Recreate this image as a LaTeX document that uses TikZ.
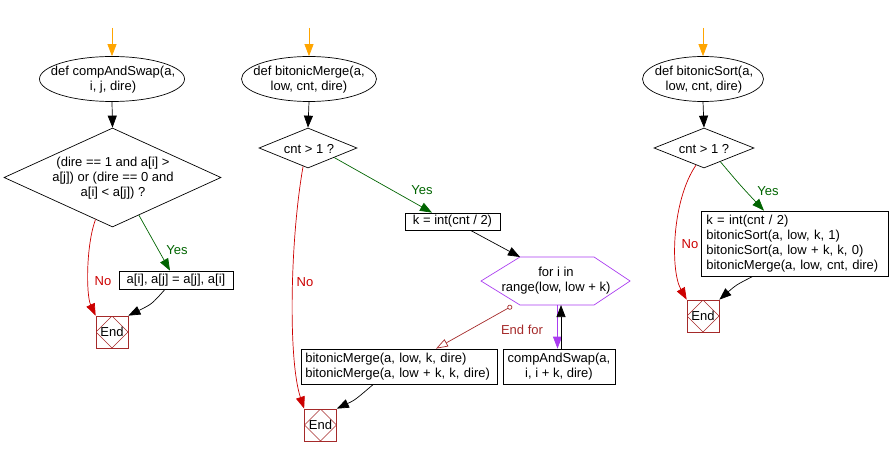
\documentclass[tikz,border=0pt]{standalone}
\usepackage{fontspec}
\setmainfont{Liberation Sans}
\usetikzlibrary{shapes.geometric,arrows.meta,calc}
\definecolor{startor}{RGB}{255,165,0}
\definecolor{yesgreen}{RGB}{0,100,0}
\definecolor{nored}{RGB}{204,0,0}
\definecolor{endred}{RGB}{165,42,42}
\definecolor{loopviolet}{RGB}{170,60,240}
\begin{document}
\begin{tikzpicture}[x=1pt,y=-1pt,
  every node/.style={font=\fontsize{13}{15}\selectfont, inner sep=0pt},
  tip/.style={-{Triangle[length=12pt,width=9pt]}},
  line/.style={tip, line width=0.7pt},
  startarrow/.style={line, draw=startor, fill=startor},
  yesline/.style={line, draw=yesgreen},
  noline/.style={line, draw=nored},
  funcell/.style={ellipse, draw, line width=0.7pt},
  decide/.style={diamond, draw, line width=0.7pt},
  procbox/.style={rectangle, draw, line width=0.7pt},
  endbox/.style={rectangle, draw=endred, line width=0.7pt, minimum size=32pt,
    path picture={\draw[endred, line width=0.6pt]
      (path picture bounding box.north) -- (path picture bounding box.east) --
      (path picture bounding box.south) -- (path picture bounding box.west) -- cycle;}},
  yeslabel/.style={text=yesgreen},
  nolabel/.style={text=nored},
]
\useasboundingbox (0,0) rectangle (890,457);

% ---------------- compAndSwap ----------------
\coordinate (s1) at (112,28);
\node[funcell, minimum width=145pt, minimum height=45pt] (e1) at (112,79) {};
\node[align=center] (e1t) at (113,80) {def compAndSwap(a,\\i, j, dire)};
\node[decide, minimum width=217pt, minimum height=99pt] (d1) at (112.5,177.5) {};
\node[align=center] (d1t) at (113,178) {(dire == 1 and a[i] >\\a[j]) or (dire == 0 and\\a[i] < a[j]) ?};
\node[procbox, minimum width=114pt, minimum height=18pt] (b1) at (176,280) {a[i], a[j] = a[j], a[i]};
\node[endbox] (end1) at (112,332) {End};

\draw[startarrow] (s1) -- (e1.north);
\draw[line] (e1.south) -- (d1.north);
\draw[yesline] (d1.-55) -- (b1.north -| 170,0);
\node[yeslabel] (y1) at (177,250) {Yes};
\draw[noline] (d1.-112) .. controls (86,245) and (86,295) .. (end1.north west);
\node[nolabel] (n1) at (103,281) {No};
\draw[line] ($(b1.south)+(-11,0)$) .. controls (152,304) .. (end1.north east);

% ---------------- bitonicMerge ----------------
\coordinate (s2) at (309,28);
\node[funcell, minimum width=135pt, minimum height=45pt] (e2) at (309,79) {};
\node[align=center] (e2t) at (309,80) {def bitonicMerge(a,\\low, cnt, dire)};
\node[decide, minimum width=98pt, minimum height=40pt] (d2) at (308,148) {};
\node (d2t) at (309,149) {cnt > 1 ?};
\node[procbox, minimum width=95pt, minimum height=17pt] (b2) at (452.5,221.5) {k = int(cnt / 2)};
% hexagon loop
\node[align=center] (loop) at (556,281) {for i in\\range(low, low + k)};
\coordinate (hW) at (481,281);
\coordinate (hNW) at (520,257);
\coordinate (hNE) at (594,257);
\coordinate (hE) at (630,281);
\coordinate (hSE) at (594,305);
\coordinate (hSW) at (520,305);
\draw[loopviolet, line width=0.7pt] (hW) -- (hNW) -- (hNE) -- (hE) -- (hSE) -- (hSW) -- cycle;
\node[procbox, text width=188pt, inner xsep=4pt, minimum height=35pt, align=left, anchor=west] (b3) at (301,366.5)
  {bitonicMerge(a, low, k, dire)\\bitonicMerge(a, low + k, k, dire)};
\node[procbox, minimum width=112pt, minimum height=35pt, align=center] (b4) at (559,366.5)
  {compAndSwap(a,\\i, i + k, dire)};
\node[endbox] (end2) at (320.5,425) {End};

\draw[startarrow] (s2) -- (e2.north);
\draw[line] (e2.south) -- (d2.north);
\draw[yesline] (d2.-20) -- (b2.north -| 432,0);
\node[yeslabel] (y2) at (422,190) {Yes};
\draw[noline] (d2.-105) .. controls (290,240) and (288,360) .. (end2.north west);
\node[nolabel] (n2) at (305,282) {No};
\draw[line] ($(b2.south)+(18,0)$) -- (hNW);
\coordinate (hB1) at (557.5,305);
\coordinate (hB2) at (561,305);
\draw[line, draw=loopviolet, fill=loopviolet] (hB1) -- (b4.north -| hB1);
\draw[line] (b4.north -| hB2) -- (hB2);
\coordinate (efs) at (512,306);
\draw[endred, line width=0.7pt, {Circle[open,length=5pt,width=5pt]}-{Triangle[open,length=12pt,width=8pt]}]
  (efs) -- (b3.north -| 436,0);
\node[text=endred] (ef) at (522,330) {End for};
\draw[line] ($(b3.south)+(-26,0)$) .. controls (355,400) .. (end2.north east);

% ---------------- bitonicSort ----------------
\coordinate (s3) at (703,28);
\node[funcell, minimum width=121pt, minimum height=45pt] (e3) at (703,79) {};
\node[align=center] (e3t) at (704,80) {def bitonicSort(a,\\low, cnt, dire)};
\node[decide, minimum width=100pt, minimum height=40pt] (d3) at (704,148) {};
\node (d3t) at (704,149) {cnt > 1 ?};
\node[procbox, text width=177pt, inner xsep=5pt, minimum height=65pt, align=left, anchor=west] (b5) at (701,243.5)
  {k = int(cnt / 2)\\bitonicSort(a, low, k, 1)\\bitonicSort(a, low + k, k, 0)\\bitonicMerge(a, low, cnt, dire)};
\node[endbox] (end3) at (703,316) {End};

\draw[startarrow] (s3) -- (e3.north);
\draw[line] (e3.south) -- (d3.north);
\draw[yesline] (d3.-40) .. controls (740,185) .. (b5.north -| 764,0);
\node[yeslabel] (y3) at (768,191) {Yes};
\draw[noline] (d3.-115) .. controls (672,200) and (670,270) .. (end3.north west);
\node[nolabel] (n3) at (690,244) {No};
\draw[line] ($(b5.south)+(-42,0)$) .. controls (736,285) .. (end3.north east);
\end{tikzpicture}
\end{document}
